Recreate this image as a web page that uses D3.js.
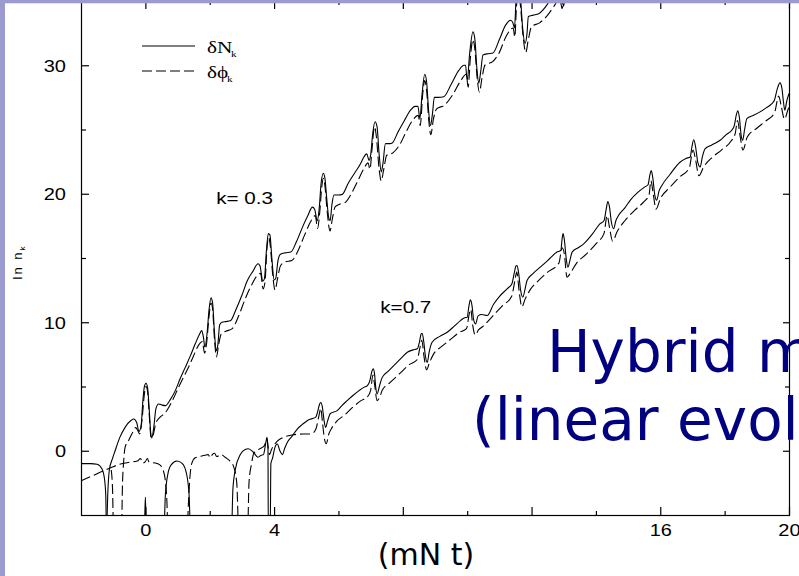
<!DOCTYPE html>
<html><head><meta charset="utf-8">
<script src="https://cdn.jsdelivr.net/npm/d3@7"></script>
<style>html,body{margin:0;padding:0;background:#fff;overflow:hidden}</style>
</head><body>
<svg id="c" width="799" height="576"></svg>
<script>
// ---- data ----
const xDomain = [-2, 20];
const yDomain = [-5, 35];
const xMajorTicks = [0, 4, 8, 12, 16, 20];
const xMinorTicks = [2, 6, 10, 14, 18];
const xTickLabels = {0: "0", 4: "4", 16: "16", 20: "20"};
const yMajorTicks = [0, 10, 20, 30];
const yMinorTicks = [5, 15, 25];

// k = 0.3, delta N_k (solid)
const k03_dN = [[-1.20,-6],[-1.17,-3.5],[-1.12,-1.5],[-1.02,-0.6],[-0.94,0],[-0.8,1.0],[-0.63,1.82],[-0.45,2.35],[-0.36,2.47],[-0.27,2.2],[-0.2,1.5],[-0.13,2.0],[-0.08,3.8],[-0.03,5.0],[0.02,5.25],[0.07,4.9],[0.12,3.2],[0.17,1.3],[0.2,1.0],[0.26,1.8],[0.33,3.3],[0.41,3.64],[0.52,3.55],[0.62,3.51],[0.78,4.0],[0.93,4.68],[1.08,5.6],[1.24,6.49],[1.4,7.4],[1.55,8.32],[1.67,9.0],[1.75,9.35],[1.8,8.9],[1.85,8.05],[1.92,9.2],[1.98,11.0],[2.04,11.9],[2.09,11.5],[2.14,9.5],[2.2,7.79],[2.25,8.2],[2.31,9.8],[2.38,10.0],[2.5,10.05],[2.65,10.13],[2.8,10.9],[3.0,12.1],[3.17,13.25],[3.35,14.0],[3.5,14.55],[3.56,14.4],[3.65,13.2],[3.7,13.4],[3.76,15.5],[3.82,16.9],[3.87,16.8],[3.93,15.0],[4.0,13.3],[4.05,13.4],[4.12,14.8],[4.2,15.3],[4.35,15.4],[4.52,15.46],[4.7,16.3],[4.9,17.5],[5.05,18.3],[5.19,18.96],[5.26,18.8],[5.34,17.9],[5.4,18.8],[5.46,20.8],[5.53,21.6],[5.58,21.2],[5.63,19.8],[5.7,18.1],[5.74,17.9],[5.8,19.2],[5.86,19.9],[6.0,19.9],[6.12,19.95],[6.3,20.8],[6.5,21.6],[6.69,22.35],[6.8,22.9],[6.88,23.1],[6.95,22.6],[7.0,23.0],[7.07,24.8],[7.14,25.6],[7.2,25.2],[7.26,23.2],[7.33,21.7],[7.38,22.3],[7.46,23.9],[7.6,23.9],[7.67,23.95],[7.85,24.8],[8.05,25.7],[8.24,26.5],[8.38,26.8],[8.47,26.8],[8.53,25.85],[8.6,27.8],[8.68,29.3],[8.74,28.7],[8.8,26.5],[8.86,25.3],[8.92,26.2],[8.98,27.5],[9.1,27.5],[9.27,27.55],[9.5,28.5],[9.74,29.6],[9.9,30.0],[9.95,30.0],[10.0,28.8],[10.08,31.0],[10.18,32.6],[10.24,32.0],[10.3,29.8],[10.36,28.6],[10.42,29.5],[10.49,30.8],[10.65,30.9],[10.8,30.95],[11.0,32.0],[11.19,33.1],[11.35,33.5],[11.42,33.3],[11.47,32.9],[11.52,35.2],[11.58,36.5],[11.65,35.5],[11.72,33.0],[11.8,31.7],[11.86,32.5],[11.9,33.8],[12.05,33.9],[12.22,34.0],[12.48,34.7],[12.7,35.6],[12.85,35.8],[12.95,35.0],[13.0,34.6],[13.06,36],[13.2,37],[13.4,37]];

// k = 0.3, delta phi_k (dashed)
const k03_dphi = [[-1.06,-1.5],[-1.02,-3.0],[-0.99,-6],[-0.74,-6],[-0.71,-2.5],[-0.68,-1.04],[-0.63,0.26],[-0.5,0.9],[-0.42,1.3],[-0.3,1.8],[-0.24,1.6],[-0.18,1.3],[-0.1,2.5],[-0.04,4.2],[0.02,5.0],[0.07,4.6],[0.12,2.8],[0.18,1.0],[0.24,1.2],[0.32,2.1],[0.45,2.6],[0.6,2.9],[0.8,3.7],[1.03,4.93],[1.2,5.8],[1.34,6.49],[1.5,7.4],[1.65,8.2],[1.77,8.5],[1.84,7.6],[1.9,8.3],[1.98,10.5],[2.04,11.5],[2.09,11.0],[2.15,8.6],[2.21,7.3],[2.28,8.3],[2.36,9.1],[2.5,9.3],[2.7,9.5],[2.9,10.5],[3.1,11.8],[3.3,12.9],[3.5,13.7],[3.58,13.8],[3.66,12.6],[3.72,13.2],[3.78,15.8],[3.83,16.6],[3.88,16.0],[3.95,13.9],[4.03,12.5],[4.1,13.3],[4.2,14.4],[4.35,14.7],[4.55,14.8],[4.75,15.6],[4.95,16.8],[5.15,17.9],[5.28,18.3],[5.35,17.3],[5.42,18.6],[5.48,20.5],[5.53,21.2],[5.58,20.6],[5.65,18.6],[5.74,17.1],[5.8,17.9],[5.9,19.0],[6.05,19.2],[6.2,19.3],[6.4,20.0],[6.6,21.0],[6.8,22.0],[6.92,22.4],[6.98,21.9],[7.04,23.4],[7.12,25.2],[7.18,24.4],[7.26,22.0],[7.33,21.0],[7.4,21.8],[7.5,23.0],[7.7,23.2],[7.9,23.8],[8.1,24.8],[8.3,25.7],[8.48,26.1],[8.54,25.3],[8.62,27.8],[8.68,28.8],[8.74,28.0],[8.81,25.6],[8.87,24.6],[8.95,25.8],[9.05,26.6],[9.3,26.9],[9.55,27.7],[9.8,28.8],[9.97,29.3],[10.03,28.3],[10.1,30.6],[10.18,32.0],[10.24,31.2],[10.31,29.0],[10.38,27.9],[10.46,29.0],[10.55,30.0],[10.8,30.3],[11.0,31.0],[11.2,32.2],[11.43,32.9],[11.48,32.2],[11.53,34.5],[11.58,36],[11.66,34.5],[11.74,32.2],[11.82,31.0],[11.9,32.0],[12.0,33.0],[12.25,33.3],[12.5,33.9],[12.7,34.6],[12.88,35.2],[12.95,34.4],[13.02,35.5],[13.2,36.5],[13.4,36.5]];

// k = 0.7, delta N_k (solid)
const k07_dN = [[-2,-1.0],[-1.7,-1.0],[-1.5,-1.05],[-1.35,-1.4],[-1.27,-2.2],[-1.23,-3.5],[-1.21,-6],[-0.03,-6],[0.0,-3.6],[0.03,-6],[0.58,-6],[0.62,-3.5],[0.7,-1.8],[0.8,-1.1],[0.98,-0.8],[1.15,-1.0],[1.28,-1.8],[1.36,-3.5],[1.4,-6],[2.68,-6],[2.72,-3],[2.8,-1.4],[2.95,-0.3],[3.1,0.1],[3.2,0.15],[3.35,-0.1],[3.5,-0.5],[3.6,-0.35],[3.67,-0.3],[3.74,0.6],[3.78,1.04],[3.81,0.2],[3.82,-6],[3.88,-6],[3.9,-1.0],[3.95,-0.6],[4.02,0.2],[4.1,0.52],[4.18,0.0],[4.26,-0.3],[4.33,0.2],[4.41,0.65],[4.55,1.1],[4.72,1.69],[4.88,2.05],[5.03,2.34],[5.18,2.5],[5.29,2.6],[5.35,3.0],[5.41,3.6],[5.45,3.76],[5.5,3.4],[5.55,2.4],[5.6,1.82],[5.66,2.3],[5.75,2.9],[5.96,3.12],[6.1,3.5],[6.27,3.9],[6.45,4.3],[6.64,4.68],[6.8,4.95],[6.9,5.07],[6.98,5.5],[7.04,6.2],[7.08,6.37],[7.12,6.0],[7.16,4.9],[7.2,4.42],[7.27,5.0],[7.36,5.71],[7.55,6.2],[7.72,6.63],[7.95,7.2],[8.14,7.66],[8.32,7.85],[8.45,7.93],[8.52,8.5],[8.57,9.1],[8.6,9.14],[8.65,8.5],[8.7,7.4],[8.76,6.88],[8.82,7.7],[8.91,8.44],[9.15,8.9],[9.38,9.22],[9.6,9.7],[9.79,10.13],[9.92,10.35],[10.0,10.39],[10.05,11.2],[10.1,11.74],[10.15,11.3],[10.2,10.2],[10.26,9.87],[10.34,10.5],[10.45,10.6],[10.62,10.52],[10.82,11.4],[11.0,12.0],[11.24,12.6],[11.39,13.0],[11.46,13.8],[11.52,14.4],[11.55,14.42],[11.6,13.8],[11.66,12.5],[11.73,11.95],[11.8,12.6],[11.86,13.25],[12.05,13.8],[12.27,14.29],[12.5,14.8],[12.79,15.46],[12.91,15.6],[12.95,16.5],[12.98,16.9],[13.02,16.4],[13.08,14.9],[13.13,14.29],[13.2,14.9],[13.26,15.46],[13.45,15.8],[13.62,16.1],[13.9,16.9],[14.13,17.67],[14.25,17.9],[14.32,18.8],[14.37,19.4],[14.42,19.0],[14.48,17.8],[14.55,17.28],[14.62,17.9],[14.7,18.3],[14.9,18.9],[15.07,19.5],[15.3,20.1],[15.5,20.5],[15.62,20.7],[15.68,21.5],[15.72,21.8],[15.77,21.2],[15.83,19.9],[15.89,19.5],[15.96,20.2],[16.05,20.65],[16.3,21.5],[16.62,22.47],[16.8,22.75],[16.93,22.86],[16.98,23.6],[17.04,24.2],[17.1,23.6],[17.17,22.4],[17.24,22.08],[17.31,22.9],[17.39,23.5],[17.6,23.8],[17.86,24.16],[18.05,24.6],[18.22,24.94],[18.3,25.3],[18.36,26.1],[18.41,26.45],[18.46,25.9],[18.51,24.6],[18.56,24.16],[18.62,25.0],[18.69,25.85],[18.9,26.1],[19.1,26.37],[19.3,26.7],[19.46,27.0],[19.55,27.3],[19.64,28.2],[19.72,28.63],[19.78,28.2],[19.83,27.1],[19.87,26.5],[19.93,27.2],[20.0,27.8]];

// k = 0.7, delta phi_k (dashed)
const k07_dphi = [[-2,-2.35],[-1.6,-1.9],[-1.3,-1.55],[-1.1,-1.35],[-0.8,-1.05],[-0.5,-0.9],[-0.25,-0.8],[-0.15,-0.6],[-0.08,-0.95],[0.0,-0.85],[0.06,-0.6],[0.12,-0.9],[0.3,-0.95],[0.45,-1.1],[0.55,-1.5],[0.62,-2.3],[0.67,-4],[0.7,-6],[1.3,-6],[1.34,-4],[1.38,-2.2],[1.44,-1.0],[1.55,-0.55],[1.7,-0.45],[1.85,-0.35],[1.95,-0.3],[2.02,-0.55],[2.08,-0.3],[2.15,-0.2],[2.22,-0.45],[2.35,-0.3],[2.5,-0.55],[2.63,-0.8],[2.75,-1.3],[2.84,-2.5],[2.9,-6],[3.18,-6],[3.22,-2.5],[3.3,-1.0],[3.37,-0.2],[3.55,0.15],[3.7,0.4],[3.77,0.9],[3.82,0.2],[3.86,-0.3],[3.92,0.1],[4.1,0.75],[4.35,1.1],[4.6,1.25],[4.9,1.3],[5.15,1.3],[5.3,1.7],[5.4,2.8],[5.45,3.3],[5.5,2.3],[5.56,1.0],[5.62,0.55],[5.7,1.3],[5.8,1.8],[5.95,2.3],[6.2,2.8],[6.45,3.4],[6.7,3.9],[6.9,4.2],[7.0,4.7],[7.07,5.9],[7.12,5.2],[7.2,3.9],[7.27,4.1],[7.36,4.7],[7.6,5.3],[7.9,6.0],[8.2,6.7],[8.45,7.1],[8.53,8.0],[8.59,8.6],[8.66,7.3],[8.74,6.3],[8.82,6.8],[8.95,7.5],[9.2,8.1],[9.45,8.6],[9.75,9.2],[9.98,9.5],[10.06,10.6],[10.11,11.0],[10.17,9.8],[10.25,9.0],[10.35,9.4],[10.5,9.7],[10.8,10.5],[11.1,11.3],[11.38,12.0],[11.48,13.2],[11.54,13.9],[11.62,12.3],[11.7,11.2],[11.8,11.8],[11.95,12.5],[12.2,13.2],[12.5,13.9],[12.85,14.6],[12.95,15.8],[13.02,15.3],[13.1,13.5],[13.2,13.8],[13.4,14.6],[13.7,15.3],[14.0,16.1],[14.25,16.9],[14.35,18.3],[14.42,17.4],[14.52,16.3],[14.65,17.0],[14.9,17.9],[15.2,18.7],[15.5,19.4],[15.65,19.9],[15.71,21.0],[15.78,20.0],[15.87,18.8],[16.0,19.6],[16.3,20.5],[16.6,21.3],[16.9,22.0],[17.02,23.4],[17.1,22.6],[17.2,21.4],[17.35,22.1],[17.6,22.8],[17.9,23.4],[18.2,24.1],[18.33,24.7],[18.4,25.7],[18.48,24.5],[18.57,23.4],[18.7,24.4],[19.0,25.1],[19.3,25.7],[19.55,26.3],[19.68,27.6],[19.76,26.8],[19.86,25.8],[19.95,26.4],[20.0,26.8]];

const curveLabels = [{text: "k= 0.3", t: 2.2, v: 19.2}, {text: "k=0.7", t: 7.3, v: 10.7}];
const legendItems = [{sym: "δN", dash: null}, {sym: "δϕ", dash: "10,4"}];
const overlayLines = ["Hybrid model", "(linear evolution)"];
const xAxisTitle = "(mN t)";
const yAxisTitle = "ln n";

// ---- drawing ----
const svg = d3.select("#c");
svg.append("rect").attr("width", 799).attr("height", 576).attr("fill", "#fff");

const L = 81, R = 789, T = 1, B = 515;
const x = d3.scaleLinear().domain(xDomain).range([L, R]);
const y = d3.scaleLinear().domain(yDomain).range([B, T]);

svg.append("clipPath").attr("id", "plotclip")
  .append("rect").attr("x", L).attr("y", T).attr("width", R - L).attr("height", B - T);

const line = d3.line().x(d => x(d[0])).y(d => y(d[1])).curve(d3.curveMonotoneX);
const plot = svg.append("g").attr("clip-path", "url(#plotclip)");
const series = [
  {data: k03_dN, dash: null},
  {data: k03_dphi, dash: "10,4"},
  {data: k07_dN, dash: null},
  {data: k07_dphi, dash: "10,4"}
];
series.forEach(s => {
  plot.append("path").attr("d", line(s.data)).attr("fill", "none")
    .attr("stroke", "#000").attr("stroke-width", 1.1)
    .attr("stroke-dasharray", s.dash);
});

// frame
svg.append("rect").attr("x", L + 0.5).attr("y", T + 0.5).attr("width", R - L).attr("height", B - T)
  .attr("fill", "none").attr("stroke", "#000").attr("stroke-width", 1.2);

const sansFont = "'Liberation Sans', Arial, sans-serif";
function styleAxis(g) {
  g.select(".domain").remove();
  g.selectAll(".tick line").attr("stroke", "#000").attr("stroke-width", 1.2);
  g.selectAll("text").attr("font-family", sansFont).attr("font-size", 16).attr("fill", "#000");
}
// bottom
const gB = svg.append("g").attr("transform", `translate(0,${B})`)
  .call(d3.axisBottom(x).tickValues(xMajorTicks).tickSize(-8).tickSizeOuter(0).tickPadding(10)
    .tickFormat(d => xTickLabels[d] || ""));
styleAxis(gB);
gB.selectAll("text").attr("transform", "scale(1.25,1)");
const gBm = svg.append("g").attr("transform", `translate(0,${B})`)
  .call(d3.axisBottom(x).tickValues(xMinorTicks).tickSize(-4).tickSizeOuter(0).tickFormat(""));
styleAxis(gBm);
// top
const gT = svg.append("g").attr("transform", `translate(0,${T})`)
  .call(d3.axisTop(x).tickValues(xMajorTicks).tickSize(-8).tickSizeOuter(0).tickFormat(""));
styleAxis(gT);
const gTm = svg.append("g").attr("transform", `translate(0,${T})`)
  .call(d3.axisTop(x).tickValues(xMinorTicks).tickSize(-4).tickSizeOuter(0).tickFormat(""));
styleAxis(gTm);
// left
const gL = svg.append("g").attr("transform", `translate(${L},0)`)
  .call(d3.axisLeft(y).tickValues(yMajorTicks).tickSize(-8).tickSizeOuter(0).tickPadding(12)
    .tickFormat(d3.format("d")));
styleAxis(gL);
gL.selectAll("text").attr("transform", "scale(1.25,1)").attr("dy", "0.38em");
const gLm = svg.append("g").attr("transform", `translate(${L},0)`)
  .call(d3.axisLeft(y).tickValues(yMinorTicks).tickSize(-5).tickSizeOuter(0).tickFormat(""));
styleAxis(gLm);
// right
const gR = svg.append("g").attr("transform", `translate(${R},0)`)
  .call(d3.axisRight(y).tickValues(yMajorTicks).tickSize(-6).tickSizeOuter(0).tickFormat(""));
styleAxis(gR);
const gRm = svg.append("g").attr("transform", `translate(${R},0)`)
  .call(d3.axisRight(y).tickValues(yMinorTicks).tickSize(-4).tickSizeOuter(0).tickFormat(""));
styleAxis(gRm);

// curve labels
curveLabels.forEach(c => {
  svg.append("text").attr("transform", `translate(${x(c.t)},${y(c.v)}) scale(1.29,1)`)
    .attr("font-family", sansFont).attr("font-size", 16).attr("fill", "#000").text(c.text);
});

// legend
const serif = "'Liberation Serif', 'Times New Roman', serif";
legendItems.forEach((it, i) => {
  const ly = 46 + i * 25;
  svg.append("line").attr("x1", 142).attr("x2", 195).attr("y1", ly).attr("y2", ly)
    .attr("stroke", "#000").attr("stroke-width", 1.1).attr("stroke-dasharray", it.dash);
  const t = svg.append("text").attr("transform", `translate(207,${ly + 7}) scale(1.25,1)`)
    .attr("font-family", serif).attr("font-size", 17).attr("fill", "#000");
  t.append("tspan").text(it.sym);
  t.append("tspan").attr("font-size", 9).attr("dy", 4).attr("dx", -1).text("k");
});

// y axis title
const yt = svg.append("text").attr("transform", "translate(22,262) rotate(-90)")
  .attr("text-anchor", "middle").attr("font-family", sansFont).attr("font-size", 13)
  .attr("letter-spacing", 2).attr("fill", "#000");
yt.append("tspan").text(yAxisTitle);
yt.append("tspan").attr("font-size", 8).attr("dy", 3).text("k");

// x axis title
svg.append("text").attr("x", 426).attr("y", 565).attr("text-anchor", "middle")
  .attr("font-family", "'DejaVu Sans', sans-serif").attr("font-size", 30).attr("fill", "#000")
  .text(xAxisTitle);

// slide overlay text
const ovPos = [[547, 372], [472, 440]];
overlayLines.forEach((s, i) => {
  svg.append("text").attr("x", ovPos[i][0]).attr("y", ovPos[i][1])
    .attr("font-family", "'DejaVu Sans', sans-serif").attr("font-size", 58)
    .attr("fill", "#000080").text(s);
});

// slide border bands
svg.append("rect").attr("x", 0).attr("y", 0).attr("width", 799).attr("height", 3.3).attr("fill", "#9b9bd0");
svg.append("rect").attr("x", 0).attr("y", 0).attr("width", 5).attr("height", 576).attr("fill", "#9b9bd0");
</script>
</body></html>
